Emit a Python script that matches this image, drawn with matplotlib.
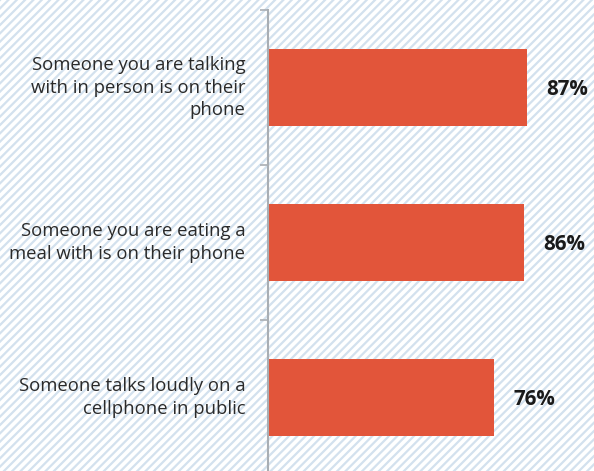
import matplotlib.pyplot as plt
from matplotlib.patches import Rectangle

categories = [
    "Someone you are talking\nwith in person is on their\nphone",
    "Someone you are eating a\nmeal with is on their phone",
    "Someone talks loudly on a\ncellphone in public",
]
values = [87, 86, 76]
value_labels = ["87%", "86%", "76%"]

plt.rcParams["hatch.linewidth"] = 1.6
plt.rcParams["hatch.color"] = "#d3e1ee"
plt.rcParams["font.family"] = ["Open Sans", "DejaVu Sans"]

fig = plt.figure(figsize=(5.94, 4.71), dpi=100)
fig.patch.set_facecolor("white")

# striped background
bg = Rectangle((0, 0), 1, 1, transform=fig.transFigure, facecolor="white",
               edgecolor="#d3e1ee", hatch="////", linewidth=0, zorder=-10)
fig.patches.append(bg)

ax = fig.add_axes([268 / 594, -4 / 471, (594 - 268) / 594, 465 / 471])
ax.patch.set_alpha(0)

ypos = list(range(len(values)))
ax.barh(ypos, values, height=0.5, color="#e2553a", left=0.4)
ax.set_xlim(0, 110)
ax.set_ylim(2.5, -0.5)

for y, v, lab in zip(ypos, values, value_labels):
    ax.text(v + 6.8, y + 0.01, lab, ha="left", va="center", fontsize=14.8,
            fontweight="bold", color="#1a1a1a")
    ax.text(-7.6, y, categories[y], ha="right", va="center", fontsize=13.3,
            color="#2a2a2a", linespacing=1.34)

ax.set_yticks([-0.5, 0.5, 1.5, 2.5])
ax.set_yticklabels([])
ax.tick_params(axis="y", length=6, width=1.2, color="#a9aeb3")
ax.set_xticks([])
for s in ["top", "right", "bottom"]:
    ax.spines[s].set_visible(False)
ax.spines["left"].set_color("#a9aeb3")
ax.spines["left"].set_linewidth(1.5)

fig.savefig("out.png", dpi=100)
